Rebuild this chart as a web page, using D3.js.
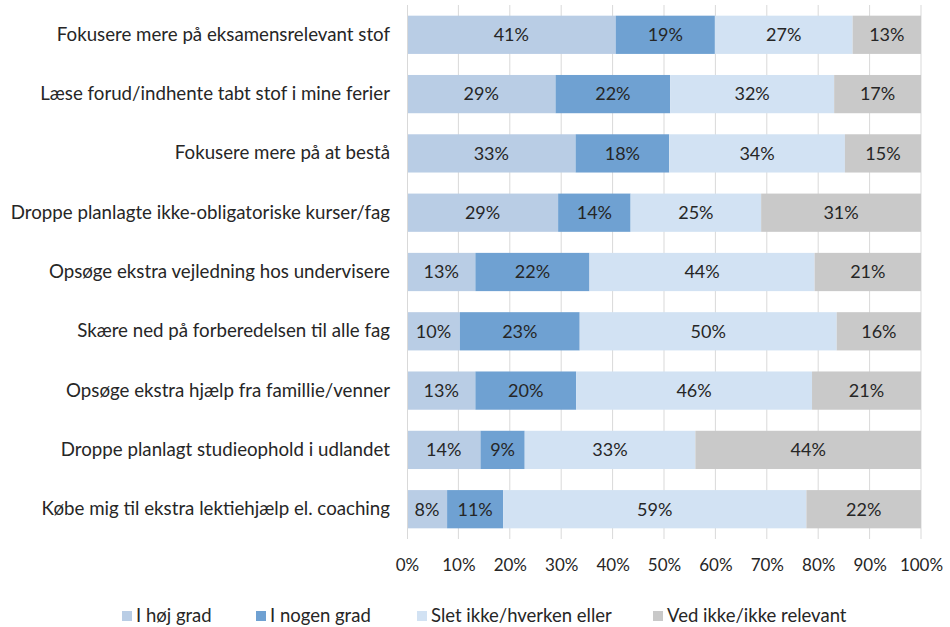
<!DOCTYPE html>
<html>
<head>
<meta charset="utf-8">
<script src="https://cdn.jsdelivr.net/npm/d3@7"></script>
<style>
  body { margin: 0; background: #fff; }
  svg { font-family: Lato, "Open Sans", sans-serif; }
</style>
</head>
<body>
<svg width="950" height="627"></svg>
<script>
// Chart data (percent of respondents)
const categories = [
  "Fokusere mere på eksamensrelevant stof",
  "Læse forud/indhente tabt stof i mine ferier",
  "Fokusere mere på at bestå",
  "Droppe planlagte ikke-obligatoriske kurser/fag",
  "Opsøge ekstra vejledning hos undervisere",
  "Skære ned på forberedelsen til alle fag",
  "Opsøge ekstra hjælp fra famillie/venner",
  "Droppe planlagt studieophold i udlandet",
  "Købe mig til ekstra lektiehjælp el. coaching"
];
const seriesNames = ["I høj grad", "I nogen grad", "Slet ikke/hverken eller", "Ved ikke/ikke relevant"];
const hojGrad   = [40.6, 28.9, 32.8, 29.4, 13.3, 10.3, 13.3, 14.3, 7.8];
const nogenGrad = [19.3, 22.3, 18.2, 14.1, 22.2, 23.3, 19.6, 8.6, 10.9];
const sletIkke  = [26.8, 31.9, 34.2, 25.4, 43.8, 50.0, 45.9, 33.2, 59.0];
const vedIkke   = [13.3, 16.9, 14.8, 31.1, 20.7, 16.4, 21.2, 43.9, 22.3];
const xTicks = [0, 10, 20, 30, 40, 50, 60, 70, 80, 90, 100];

const colors = ["#B9CDE5", "#6FA1D2", "#D2E2F3", "#C9C9C9"];

const margin = { top: 5, right: 29, bottom: 88, left: 407 },
      width = 950 - margin.left - margin.right,
      height = 627 - margin.top - margin.bottom;

const svg = d3.select("svg")
  .append("g")
  .attr("transform", `translate(${margin.left},${margin.top})`);

const rows = categories.map((c, i) => ({
  cat: c,
  v: [hojGrad[i], nogenGrad[i], sletIkke[i], vedIkke[i]]
}));

const x = d3.scaleLinear().domain([0, 100]).range([0, width]);
const y = d3.scaleBand().domain(categories).range([0, height]).paddingInner(0.355).paddingOuter(0.18);

// gridlines
svg.append("g")
  .selectAll("line")
  .data(xTicks.slice(1))
  .join("line")
  .attr("x1", d => x(d)).attr("x2", d => x(d))
  .attr("y1", 0).attr("y2", height)
  .attr("stroke", "#D9D9D9");

// stacked bars
const stack = d3.stack().keys([0, 1, 2, 3]).value((d, k) => d.v[k]);
const layers = stack(rows);

const groups = svg.selectAll(".layer")
  .data(layers)
  .join("g")
  .attr("fill", (d, i) => colors[i]);

groups.selectAll("rect")
  .data(d => d)
  .join("rect")
  .attr("x", d => x(d[0]))
  .attr("y", d => y(d.data.cat))
  .attr("width", d => x(d[1]) - x(d[0]))
  .attr("height", y.bandwidth());

groups.selectAll("text")
  .data(d => d)
  .join("text")
  .attr("x", d => (x(d[0]) + x(d[1])) / 2)
  .attr("y", d => y(d.data.cat) + y.bandwidth() / 2)
  .attr("dy", "0.35em")
  .attr("text-anchor", "middle")
  .attr("fill", "#262626")
  .style("font-size", "18px")
  .text(d => Math.round(d[1] - d[0]) + "%");

// y axis
const yAxis = svg.append("g")
  .call(d3.axisLeft(y).tickSize(0).tickPadding(17));
yAxis.select(".domain").attr("stroke", "#D9D9D9").attr("d", `M0.5,0V${height}`);
yAxis.selectAll("text")
  .style("font-size", "18.7px")
  .style("font-family", "Lato, sans-serif")
  .attr("fill", "#262626");

// x axis
const xAxis = svg.append("g")
  .attr("transform", `translate(0,${height})`)
  .call(d3.axisBottom(x).tickValues(xTicks).tickSize(0).tickPadding(20).tickFormat(d => d + "%"));
xAxis.select(".domain").remove();
xAxis.selectAll("text")
  .style("font-size", "17px")
  .style("font-family", "Lato, sans-serif")
  .attr("fill", "#262626");

// legend
const legendX = [122, 256, 417, 653];
const legend = d3.select("svg").append("g");
seriesNames.forEach((name, i) => {
  legend.append("rect")
    .attr("x", legendX[i])
    .attr("y", 611)
    .attr("width", 10)
    .attr("height", 10)
    .attr("fill", colors[i]);
  legend.append("text")
    .attr("x", legendX[i] + 14)
    .attr("y", 616)
    .attr("dy", "0.35em")
    .attr("fill", "#262626")
    .style("font-size", "18.5px")
    .text(name);
});
</script>
</body>
</html>
